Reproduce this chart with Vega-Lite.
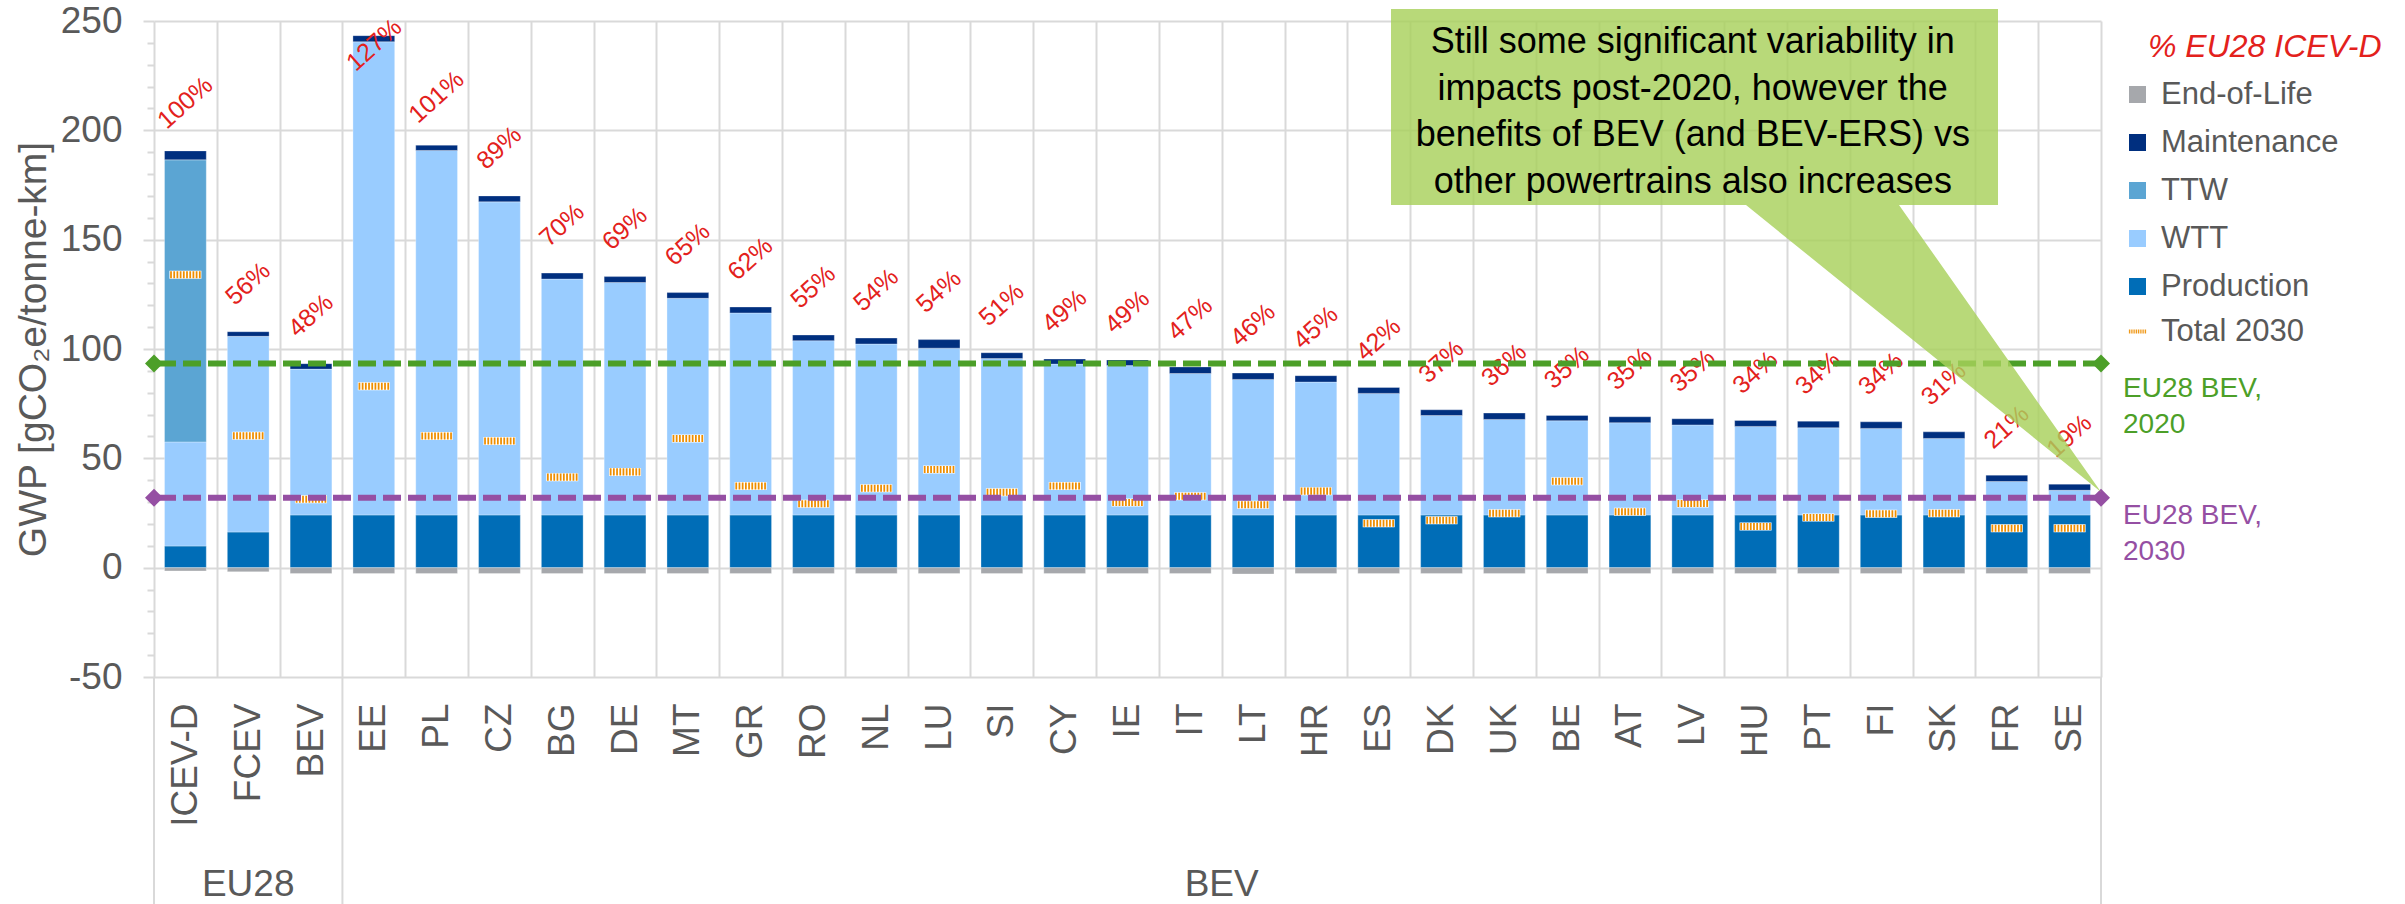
{
  "$schema": "https://vega.github.io/schema/vega-lite/v6.json",
  "width": 1947,
  "height": 656,
  "autosize": {"type": "none"},
  "padding": {"left": 154, "top": 21, "right": 304, "bottom": 227},
  "background": "#FFFFFF",
  "config": {"font": "Liberation Sans", "view": {"stroke": null}},
  "datasets": {
    "components": [
      {"cat": "ICEV-D", "series": "Production", "value": 9.9}, {"cat": "ICEV-D", "series": "WTT", "value": 47.6}, {"cat": "ICEV-D", "series": "TTW", "value": 129.0}, {"cat": "ICEV-D", "series": "Maintenance", "value": 4.1}, {"cat": "ICEV-D", "series": "End-of-Life", "value": -1.5},
      {"cat": "FCEV", "series": "Production", "value": 16.3}, {"cat": "FCEV", "series": "WTT", "value": 89.5}, {"cat": "FCEV", "series": "Maintenance", "value": 2.1}, {"cat": "FCEV", "series": "End-of-Life", "value": -1.9},
      {"cat": "BEV", "series": "Production", "value": 24.1}, {"cat": "BEV", "series": "WTT", "value": 66.7}, {"cat": "BEV", "series": "Maintenance", "value": 2.5}, {"cat": "BEV", "series": "End-of-Life", "value": -2.7},
      {"cat": "EE", "series": "Production", "value": 24.1}, {"cat": "EE", "series": "WTT", "value": 216.4}, {"cat": "EE", "series": "Maintenance", "value": 2.8}, {"cat": "EE", "series": "End-of-Life", "value": -2.7},
      {"cat": "PL", "series": "Production", "value": 24.1}, {"cat": "PL", "series": "WTT", "value": 166.7}, {"cat": "PL", "series": "Maintenance", "value": 2.4}, {"cat": "PL", "series": "End-of-Life", "value": -2.7},
      {"cat": "CZ", "series": "Production", "value": 24.1}, {"cat": "CZ", "series": "WTT", "value": 143.2}, {"cat": "CZ", "series": "Maintenance", "value": 2.7}, {"cat": "CZ", "series": "End-of-Life", "value": -2.7},
      {"cat": "BG", "series": "Production", "value": 24.1}, {"cat": "BG", "series": "WTT", "value": 107.9}, {"cat": "BG", "series": "Maintenance", "value": 2.7}, {"cat": "BG", "series": "End-of-Life", "value": -2.7},
      {"cat": "DE", "series": "Production", "value": 24.1}, {"cat": "DE", "series": "WTT", "value": 106.3}, {"cat": "DE", "series": "Maintenance", "value": 2.7}, {"cat": "DE", "series": "End-of-Life", "value": -2.7},
      {"cat": "MT", "series": "Production", "value": 24.1}, {"cat": "MT", "series": "WTT", "value": 99.1}, {"cat": "MT", "series": "Maintenance", "value": 2.6}, {"cat": "MT", "series": "End-of-Life", "value": -2.7},
      {"cat": "GR", "series": "Production", "value": 24.1}, {"cat": "GR", "series": "WTT", "value": 92.4}, {"cat": "GR", "series": "Maintenance", "value": 2.7}, {"cat": "GR", "series": "End-of-Life", "value": -2.7},
      {"cat": "RO", "series": "Production", "value": 24.1}, {"cat": "RO", "series": "WTT", "value": 79.7}, {"cat": "RO", "series": "Maintenance", "value": 2.6}, {"cat": "RO", "series": "End-of-Life", "value": -2.7},
      {"cat": "NL", "series": "Production", "value": 24.1}, {"cat": "NL", "series": "WTT", "value": 78.2}, {"cat": "NL", "series": "Maintenance", "value": 2.7}, {"cat": "NL", "series": "End-of-Life", "value": -2.7},
      {"cat": "LU", "series": "Production", "value": 24.1}, {"cat": "LU", "series": "WTT", "value": 76.3}, {"cat": "LU", "series": "Maintenance", "value": 3.9}, {"cat": "LU", "series": "End-of-Life", "value": -2.7},
      {"cat": "SI", "series": "Production", "value": 24.1}, {"cat": "SI", "series": "WTT", "value": 71.5}, {"cat": "SI", "series": "Maintenance", "value": 2.7}, {"cat": "SI", "series": "End-of-Life", "value": -2.7},
      {"cat": "CY", "series": "Production", "value": 24.1}, {"cat": "CY", "series": "WTT", "value": 69.0}, {"cat": "CY", "series": "Maintenance", "value": 2.3}, {"cat": "CY", "series": "End-of-Life", "value": -2.7},
      {"cat": "IE", "series": "Production", "value": 24.1}, {"cat": "IE", "series": "WTT", "value": 68.3}, {"cat": "IE", "series": "Maintenance", "value": 2.6}, {"cat": "IE", "series": "End-of-Life", "value": -2.7},
      {"cat": "IT", "series": "Production", "value": 24.1}, {"cat": "IT", "series": "WTT", "value": 64.7}, {"cat": "IT", "series": "Maintenance", "value": 3.0}, {"cat": "IT", "series": "End-of-Life", "value": -2.7},
      {"cat": "LT", "series": "Production", "value": 24.1}, {"cat": "LT", "series": "WTT", "value": 62.0}, {"cat": "LT", "series": "Maintenance", "value": 2.9}, {"cat": "LT", "series": "End-of-Life", "value": -2.9},
      {"cat": "HR", "series": "Production", "value": 24.1}, {"cat": "HR", "series": "WTT", "value": 60.8}, {"cat": "HR", "series": "Maintenance", "value": 2.9}, {"cat": "HR", "series": "End-of-Life", "value": -2.7},
      {"cat": "ES", "series": "Production", "value": 24.1}, {"cat": "ES", "series": "WTT", "value": 55.6}, {"cat": "ES", "series": "Maintenance", "value": 2.7}, {"cat": "ES", "series": "End-of-Life", "value": -2.7},
      {"cat": "DK", "series": "Production", "value": 24.1}, {"cat": "DK", "series": "WTT", "value": 45.5}, {"cat": "DK", "series": "Maintenance", "value": 2.6}, {"cat": "DK", "series": "End-of-Life", "value": -2.7},
      {"cat": "UK", "series": "Production", "value": 24.1}, {"cat": "UK", "series": "WTT", "value": 43.7}, {"cat": "UK", "series": "Maintenance", "value": 2.9}, {"cat": "UK", "series": "End-of-Life", "value": -2.7},
      {"cat": "BE", "series": "Production", "value": 24.1}, {"cat": "BE", "series": "WTT", "value": 43.1}, {"cat": "BE", "series": "Maintenance", "value": 2.4}, {"cat": "BE", "series": "End-of-Life", "value": -2.7},
      {"cat": "AT", "series": "Production", "value": 24.1}, {"cat": "AT", "series": "WTT", "value": 42.2}, {"cat": "AT", "series": "Maintenance", "value": 2.7}, {"cat": "AT", "series": "End-of-Life", "value": -2.7},
      {"cat": "LV", "series": "Production", "value": 24.1}, {"cat": "LV", "series": "WTT", "value": 41.2}, {"cat": "LV", "series": "Maintenance", "value": 2.8}, {"cat": "LV", "series": "End-of-Life", "value": -2.7},
      {"cat": "HU", "series": "Production", "value": 24.1}, {"cat": "HU", "series": "WTT", "value": 40.5}, {"cat": "HU", "series": "Maintenance", "value": 2.7}, {"cat": "HU", "series": "End-of-Life", "value": -2.7},
      {"cat": "PT", "series": "Production", "value": 24.1}, {"cat": "PT", "series": "WTT", "value": 39.9}, {"cat": "PT", "series": "Maintenance", "value": 3.0}, {"cat": "PT", "series": "End-of-Life", "value": -2.7},
      {"cat": "FI", "series": "Production", "value": 24.1}, {"cat": "FI", "series": "WTT", "value": 39.6}, {"cat": "FI", "series": "Maintenance", "value": 3.0}, {"cat": "FI", "series": "End-of-Life", "value": -2.7},
      {"cat": "SK", "series": "Production", "value": 24.1}, {"cat": "SK", "series": "WTT", "value": 35.0}, {"cat": "SK", "series": "Maintenance", "value": 3.0}, {"cat": "SK", "series": "End-of-Life", "value": -2.7},
      {"cat": "FR", "series": "Production", "value": 24.1}, {"cat": "FR", "series": "WTT", "value": 15.3}, {"cat": "FR", "series": "Maintenance", "value": 2.9}, {"cat": "FR", "series": "End-of-Life", "value": -2.7},
      {"cat": "SE", "series": "Production", "value": 24.1}, {"cat": "SE", "series": "WTT", "value": 11.3}, {"cat": "SE", "series": "Maintenance", "value": 2.8}, {"cat": "SE", "series": "End-of-Life", "value": -2.7}
    ],
    "total2030": [
      {"cat": "ICEV-D", "measure": "Total 2030", "value": 134.0}, {"cat": "FCEV", "measure": "Total 2030", "value": 60.3}, {"cat": "BEV", "measure": "Total 2030", "value": 31.3},
      {"cat": "EE", "measure": "Total 2030", "value": 83.0}, {"cat": "PL", "measure": "Total 2030", "value": 60.2}, {"cat": "CZ", "measure": "Total 2030", "value": 57.9},
      {"cat": "BG", "measure": "Total 2030", "value": 41.4}, {"cat": "DE", "measure": "Total 2030", "value": 43.8}, {"cat": "MT", "measure": "Total 2030", "value": 59.1},
      {"cat": "GR", "measure": "Total 2030", "value": 37.3}, {"cat": "RO", "measure": "Total 2030", "value": 29.2}, {"cat": "NL", "measure": "Total 2030", "value": 36.3},
      {"cat": "LU", "measure": "Total 2030", "value": 44.9}, {"cat": "SI", "measure": "Total 2030", "value": 34.5}, {"cat": "CY", "measure": "Total 2030", "value": 37.3},
      {"cat": "IE", "measure": "Total 2030", "value": 29.8}, {"cat": "IT", "measure": "Total 2030", "value": 32.7}, {"cat": "LT", "measure": "Total 2030", "value": 28.8},
      {"cat": "HR", "measure": "Total 2030", "value": 35.0}, {"cat": "ES", "measure": "Total 2030", "value": 20.3}, {"cat": "DK", "measure": "Total 2030", "value": 21.7},
      {"cat": "UK", "measure": "Total 2030", "value": 24.9}, {"cat": "BE", "measure": "Total 2030", "value": 39.5}, {"cat": "AT", "measure": "Total 2030", "value": 25.6},
      {"cat": "LV", "measure": "Total 2030", "value": 29.3}, {"cat": "HU", "measure": "Total 2030", "value": 18.8}, {"cat": "PT", "measure": "Total 2030", "value": 22.9},
      {"cat": "FI", "measure": "Total 2030", "value": 24.7}, {"cat": "SK", "measure": "Total 2030", "value": 24.9}, {"cat": "FR", "measure": "Total 2030", "value": 18.0},
      {"cat": "SE", "measure": "Total 2030", "value": 18.0}
    ],
    "share": [
      {"cat": "ICEV-D", "pct": 1.00}, {"cat": "FCEV", "pct": 0.56}, {"cat": "BEV", "pct": 0.48}, {"cat": "EE", "pct": 1.27},
      {"cat": "PL", "pct": 1.01}, {"cat": "CZ", "pct": 0.89}, {"cat": "BG", "pct": 0.70}, {"cat": "DE", "pct": 0.69},
      {"cat": "MT", "pct": 0.65}, {"cat": "GR", "pct": 0.62}, {"cat": "RO", "pct": 0.55}, {"cat": "NL", "pct": 0.54},
      {"cat": "LU", "pct": 0.54}, {"cat": "SI", "pct": 0.51}, {"cat": "CY", "pct": 0.49}, {"cat": "IE", "pct": 0.49},
      {"cat": "IT", "pct": 0.47}, {"cat": "LT", "pct": 0.46}, {"cat": "HR", "pct": 0.45}, {"cat": "ES", "pct": 0.42},
      {"cat": "DK", "pct": 0.37}, {"cat": "UK", "pct": 0.36}, {"cat": "BE", "pct": 0.35}, {"cat": "AT", "pct": 0.35},
      {"cat": "LV", "pct": 0.35}, {"cat": "HU", "pct": 0.34}, {"cat": "PT", "pct": 0.34}, {"cat": "FI", "pct": 0.34},
      {"cat": "SK", "pct": 0.31}, {"cat": "FR", "pct": 0.21}, {"cat": "SE", "pct": 0.19}
    ],
    "refs": [
      {"ref": "EU28 BEV, 2020", "label": "EU28 BEV,\n2020", "value": 93.4},
      {"ref": "EU28 BEV, 2030", "label": "EU28 BEV,\n2030", "value": 32.0}
    ]
  },
  "layer": [
    {
      "data": {"name": "components"},
      "transform": [{"stack": "value", "groupby": ["cat"], "as": ["v0", "v1"]}],
      "mark": {"type": "bar", "width": {"band": 0.665}, "stroke": "#FFFFFF", "strokeWidth": 0.6, "strokeOpacity": 0.5},
      "encoding": {
        "x": {
          "field": "cat", "type": "nominal", "sort": null, "title": null,
          "scale": {"domain": ["ICEV-D", "FCEV", "BEV", "EE", "PL", "CZ", "BG", "DE", "MT", "GR", "RO", "NL", "LU", "SI", "CY", "IE", "IT", "LT", "HR", "ES", "DK", "UK", "BE", "AT", "LV", "HU", "PT", "FI", "SK", "FR", "SE"], "paddingInner": 0, "paddingOuter": 0},
          "axis": {
            "orient": "bottom", "tickBand": "extent",
            "grid": true, "gridColor": "#D9D9D9", "gridWidth": 2,
            "ticks": false, "domain": false,
            "labelAngle": -90, "labelAlign": "right", "labelBaseline": "middle",
            "labelFontSize": 37, "labelColor": "#595959", "labelPadding": 26, "labelOverlap": false
          }
        },
        "y": {
          "field": "v0", "type": "quantitative", "title": "GWP [gCO₂e/tonne-km]",
          "scale": {"domain": [-50, 250], "nice": false, "zero": false},
          "axis": {
            "orient": "left",
            "values": [-50, -40, -30, -20, -10, 0, 10, 20, 30, 40, 50, 60, 70, 80, 90, 100, 110, 120, 130, 140, 150, 160, 170, 180, 190, 200, 210, 220, 230, 240, 250],
            "tickCount": 100,
            "labelExpr": "datum.value % 50 === 0 ? '' + datum.value : ''",
            "grid": true, "gridColor": "#D9D9D9", "gridWidth": 2,
            "gridOpacity": {"condition": {"test": "datum.value % 50 !== 0", "value": 0}, "value": 1},
            "tickColor": "#D9D9D9", "tickWidth": 2,
            "tickSize": {"condition": {"test": "datum.value % 50 !== 0", "value": 7}, "value": 11},
            "domain": false, "labelOverlap": false, "labelFlush": false,
            "labelFontSize": 37, "labelColor": "#595959", "labelPadding": 21,
            "titleFontSize": 39, "titleColor": "#595959", "titleFontWeight": "normal",
            "titleAngle": -90, "titleX": -109, "titleY": 328, "titleAlign": "center", "titleBaseline": "alphabetic"
          }
        },
        "y2": {"field": "v1"},
        "color": {
          "field": "series", "type": "nominal",
          "scale": {"domain": ["End-of-Life", "Maintenance", "TTW", "WTT", "Production"], "range": ["#A6A8AC", "#002F7F", "#5BA5D3", "#99CCFF", "#006DB7"]},
          "legend": {
            "title": "% EU28 ICEV-D", "orient": "none", "legendX": 1994, "legendY": 11, "padding": 0,
            "titleFontSize": 32, "titleColor": "#E3211C", "titleFontStyle": "italic", "titleFontWeight": "normal", "titlePadding": 15, "titleLimit": 500,
            "symbolType": "square", "symbolSize": 289, "symbolStrokeWidth": 0, "symbolOffset": -26,
            "labelFontSize": 31, "labelColor": "#595959", "labelOffset": 8, "labelLimit": 500, "rowPadding": 16
          }
        }
      }
    },
    {
      "data": {"name": "total2030"},
      "mark": {"type": "point", "shape": "M-1,-0.25H1V0.25H-1Z", "filled": true, "size": 1024, "opacity": 1, "color": "#FFFFFF", "strokeWidth": 0},
      "encoding": {
        "x": {"field": "cat", "type": "nominal", "sort": null},
        "y": {"field": "value", "type": "quantitative"}
      }
    },
    {
      "data": {"name": "total2030"},
      "mark": {"type": "point", "filled": true, "size": 1024, "opacity": 1, "color": "#EE8E00", "strokeWidth": 0},
      "encoding": {
        "x": {"field": "cat", "type": "nominal", "sort": null},
        "y": {"field": "value", "type": "quantitative"},
        "shape": {
          "field": "measure", "type": "nominal",
          "scale": {"domain": ["Total 2030"], "range": ["M-0.955,-0.22h0.11v0.44h-0.11z M-0.755,-0.22h0.11v0.44h-0.11z M-0.555,-0.22h0.11v0.44h-0.11z M-0.355,-0.22h0.11v0.44h-0.11z M-0.155,-0.22h0.11v0.44h-0.11z M0.045,-0.22h0.11v0.44h-0.11z M0.245,-0.22h0.11v0.44h-0.11z M0.445,-0.22h0.11v0.44h-0.11z M0.645,-0.22h0.11v0.44h-0.11z M0.845,-0.22h0.11v0.44h-0.11z"]},
          "legend": {
            "title": null, "orient": "none", "legendX": 1968, "legendY": 295, "padding": 0,
            "symbolSize": 324, "symbolFillColor": "#EE8E00", "symbolStrokeWidth": 0,
            "labelFontSize": 31, "labelColor": "#595959", "labelOffset": 8, "labelLimit": 500
          }
        }
      }
    },
    {
      "data": {"name": "components"},
      "transform": [
        {"filter": "datum.series !== 'End-of-Life' && datum.cat !== 'EE'"},
        {"aggregate": [{"op": "sum", "field": "value", "as": "top"}], "groupby": ["cat"]},
        {"lookup": "cat", "from": {"data": {"name": "share"}, "key": "cat", "fields": ["pct"]}}
      ],
      "mark": {"type": "text", "angle": 318, "dx": 32, "dy": -36, "fontSize": 25, "color": "#E3211C", "align": "center", "baseline": "middle"},
      "encoding": {
        "x": {"field": "cat", "type": "nominal", "sort": null},
        "y": {"field": "top", "type": "quantitative"},
        "text": {"field": "pct", "type": "quantitative", "format": ".0%"}
      }
    },
    {
      "data": {"name": "components"},
      "transform": [
        {"filter": "datum.series !== 'End-of-Life' && datum.cat === 'EE'"},
        {"aggregate": [{"op": "sum", "field": "value", "as": "top"}], "groupby": ["cat"]},
        {"lookup": "cat", "from": {"data": {"name": "share"}, "key": "cat", "fields": ["pct"]}}
      ],
      "mark": {"type": "text", "angle": 318, "dx": -6, "dy": 7, "fontSize": 25, "color": "#E3211C", "align": "center", "baseline": "middle"},
      "encoding": {
        "x": {"field": "cat", "type": "nominal", "sort": null},
        "y": {"field": "top", "type": "quantitative"},
        "text": {"field": "pct", "type": "quantitative", "format": ".0%"}
      }
    },
    {
      "data": {"name": "refs"},
      "mark": {"type": "rule", "strokeDash": [18, 7], "strokeWidth": 6},
      "encoding": {
        "y": {"field": "value", "type": "quantitative"},
        "stroke": {"field": "ref", "type": "nominal", "scale": {"domain": ["EU28 BEV, 2020", "EU28 BEV, 2030"], "range": ["#4C9F28", "#954FA3"]}, "legend": null}
      }
    },
    {
      "data": {"name": "refs"},
      "mark": {"type": "point", "shape": "diamond", "filled": true, "size": 324, "opacity": 1, "strokeWidth": 0},
      "encoding": {
        "x": {"datum": "ICEV-D", "type": "nominal", "bandPosition": 0},
        "y": {"field": "value", "type": "quantitative"},
        "fill": {"field": "ref", "type": "nominal", "scale": {"domain": ["EU28 BEV, 2020", "EU28 BEV, 2030"], "range": ["#4C9F28", "#954FA3"]}, "legend": null}
      }
    },
    {
      "data": {"name": "refs"},
      "mark": {"type": "point", "shape": "diamond", "filled": true, "size": 324, "opacity": 1, "strokeWidth": 0},
      "encoding": {
        "x": {"datum": "SE", "type": "nominal", "bandPosition": 1},
        "y": {"field": "value", "type": "quantitative"},
        "fill": {"field": "ref", "type": "nominal", "legend": null}
      }
    },
    {
      "data": {"name": "refs"},
      "transform": [{"filter": "datum.ref === 'EU28 BEV, 2020'"}],
      "mark": {"type": "text", "align": "left", "baseline": "top", "dx": 22, "dy": 12, "fontSize": 28, "lineHeight": 36, "lineBreak": "\n", "color": "#4C9F28"},
      "encoding": {
        "x": {"datum": "SE", "type": "nominal", "bandPosition": 1},
        "y": {"field": "value", "type": "quantitative"},
        "text": {"field": "label"}
      }
    },
    {
      "data": {"name": "refs"},
      "transform": [{"filter": "datum.ref === 'EU28 BEV, 2030'"}],
      "mark": {"type": "text", "align": "left", "baseline": "top", "dx": 22, "dy": 4, "fontSize": 28, "lineHeight": 36, "lineBreak": "\n", "color": "#954FA3"},
      "encoding": {
        "x": {"datum": "SE", "type": "nominal", "bandPosition": 1},
        "y": {"field": "value", "type": "quantitative"},
        "text": {"field": "label"}
      }
    },
    {
      "data": {"values": [{}]},
      "mark": {"type": "rule", "color": "#D9D9D9", "strokeWidth": 2},
      "encoding": {
        "x": {"datum": "ICEV-D", "type": "nominal", "bandPosition": 0},
        "y": {"datum": -50, "type": "quantitative"},
        "y2": {"datum": -154}
      }
    },
    {
      "data": {"values": [{}]},
      "mark": {"type": "rule", "color": "#D9D9D9", "strokeWidth": 2},
      "encoding": {
        "x": {"datum": "EE", "type": "nominal", "bandPosition": 0},
        "y": {"datum": -50, "type": "quantitative"},
        "y2": {"datum": -154}
      }
    },
    {
      "data": {"values": [{}]},
      "mark": {"type": "rule", "color": "#D9D9D9", "strokeWidth": 2},
      "encoding": {
        "x": {"datum": "SE", "type": "nominal", "bandPosition": 1},
        "y": {"datum": -50, "type": "quantitative"},
        "y2": {"datum": -154}
      }
    },
    {
      "data": {"values": [{"group": "EU28"}]},
      "mark": {"type": "text", "fontSize": 37, "color": "#595959", "align": "center", "baseline": "middle"},
      "encoding": {
        "x": {"datum": "FCEV", "type": "nominal", "bandPosition": 0.5},
        "y": {"datum": -145, "type": "quantitative"},
        "text": {"field": "group"}
      }
    },
    {
      "data": {"values": [{"group": "BEV"}]},
      "mark": {"type": "text", "fontSize": 37, "color": "#595959", "align": "center", "baseline": "middle"},
      "encoding": {
        "x": {"datum": "LT", "type": "nominal", "bandPosition": 0},
        "y": {"datum": -145, "type": "quantitative"},
        "text": {"field": "group"}
      }
    },
    {
      "data": {"values": [{}]},
      "mark": {"type": "point", "shape": "M-710,-483H-103V-287H-202L0,0L-355,-287H-710Z", "size": 4, "filled": true, "color": "#A8D15C", "opacity": 0.82, "strokeWidth": 0},
      "encoding": {
        "x": {"datum": "SE", "type": "nominal", "bandPosition": 1},
        "y": {"datum": 34.6, "type": "quantitative"}
      }
    },
    {
      "data": {"values": [{"note": "Still some significant variability in\nimpacts post-2020, however the\nbenefits of BEV (and BEV-ERS) vs\nother powertrains also increases"}]},
      "mark": {"type": "text", "fontSize": 36, "lineHeight": 46.7, "lineBreak": "\n", "align": "center", "baseline": "middle", "color": "#000000"},
      "encoding": {
        "x": {"datum": "LV", "type": "nominal", "bandPosition": 0.5},
        "y": {"datum": 240.4, "type": "quantitative"},
        "text": {"field": "note"}
      }
    }
  ]
}
